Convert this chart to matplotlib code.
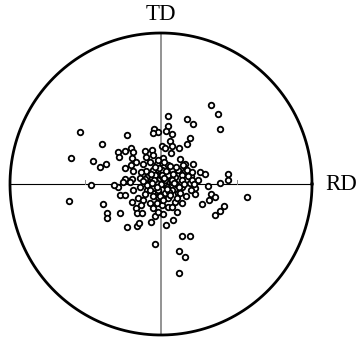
import matplotlib.pyplot as plt
import numpy as np

# pole positions, in units where the projection circle radius is R
R = 151.0
rd = [50, 57, 59, 7, 26, 32, 7, 5, 11, 29, 26, 9, 11, 1, 4, 18, 10, 19, 24, 32,
      2, -1, 7, -7, -3, -8,
      22, 24, 30, 39, 44, 67, 67, 59, 47, 86,
      -81, -34, -59, -90, -68, -61, -55, -43, -42, -36, -30, -28, -29, -25, -16, -9,
      -8, -15, -30, -36, -28, -18, -11, -4, -15, -8, -36, -29, -21, -14, -9, -4, -3,
      -43, -47, -70, -38, -31,
      -92, -58, -54, -54, -41, -34, -24, -22, -10, -6, -41, -36, -28, -21, -14, -8,
      -3, -29, -23, -18, -25, -20, -11, -8, -4, -24, -19, -6, 2,
      4, 11, 21, 29, 34, 34, -3, 4, 11, 17, -3, 7, 14, 21, 1, 7, 16, -3, 5, 12,
      21, 29, 18, 24, 18, 41, 48, 50, 54, 54, 59, 63, 30, 11,
      1, 11, 17, 26, 31, -6, 1, 7, 14, 21, 27, 4, 11, 21, 31, 37, 33,
      0, -5, 6, -10, -12, 15, 8, -8, 12, -2, 18, -16, 3, -20, 25, -4, 9, -14,
      -7, 3, 13, -11, -1, 9, 19, -6, 5, 15, -16, -3, 2, 16, -9, 23, -18, 6]
td = [79, 70, 55, 68, 65, 60, 58, 53, 50, 46, 40, 43, 38, 38, 36, 36, 31, 25, 20, 20,
      26, 21, 19, 55, 52, 51,
      19, 13, 8, 12, 10, 10, 4, 1, -2, -13,
      52, 49, 40, 26, 23, 17, 20, 32, 27, 33, 36, 32, 26, 22, 33, 34,
      29, 27, 19, 16, 13, 20, 22, 20, 13, 14, 5, 5, 6, 7, 6, 9, 4,
      -3, -1, -1, 2, 2,
      -17, -20, -29, -34, -29, -43, -42, -39, -38, -60, -11, -11, -6, -3, -6, -4,
      -9, -18, -14, -16, -24, -21, -19, -24, -19, -29, -29, -32, -30,
      -1, 2, -3, 1, -4, -10, -6, -9, -6, -9, -13, -14, -18, -19, -21, -23, -28, -28, -41, -36,
      -52, -52, -67, -73, -89, -20, -16, -10, -13, -31, -27, -22, -6, -23,
      14, 14, 14, 14, 12, 9, 9, 9, 7, 9, 8, 4, 4, 4, 4, 4, 0,
      0, 2, -3, 10, 0, 0, -8, -12, 10, 16, -3, -10, 22, 12, -12, -3, 18, -1,
      4, 6, 1, -6, -12, -11, -9, 17, 13, 17, 5, 24, -16, -14, 1, 0, 3, -5]

x = np.array(rd) / R
y = np.array(td) / R

fig = plt.figure(figsize=(3.57, 3.40), dpi=100)
ax = fig.add_axes([0, 0, 1, 1])
ax.set_xlim(-161 / R, 196 / R)
ax.set_ylim(-156 / R, 184 / R)
ax.axis('off')

# reference axes and outer circle
ax.plot([-1, 1], [0, 0], color='black', lw=0.8, zorder=1)
ax.plot([0, 0], [-1, 1], color='#8a8a8a', lw=1.3, zorder=1)
for t in (-0.5, 0.5):
    ax.plot([t, t], [0, 0.025], color='#8a8a8a', lw=0.7, zorder=1)
theta = np.linspace(0, 2 * np.pi, 400)
ax.plot(np.cos(theta), np.sin(theta), color='black', lw=2.0, zorder=3)

ax.scatter(x, y, s=16, facecolors='white', edgecolors='black', linewidths=1.3, zorder=2)

ax.text(0, 1.125, 'TD', ha='center', va='center', fontsize=16.5, family='Liberation Serif')
ax.text(1.085, 0.0, 'RD', ha='left', va='center', fontsize=16.5, family='Liberation Serif')

fig.savefig('out.png', dpi=100)
